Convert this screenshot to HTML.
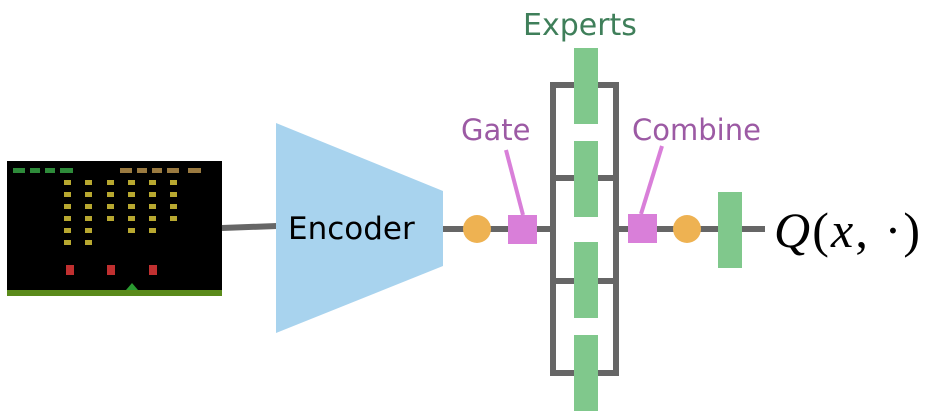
<!DOCTYPE html>
<html><head><meta charset="utf-8"><style>
html,body{margin:0;padding:0;background:#fff;width:925px;height:418px;overflow:hidden}
</style></head><body>
<svg width="925" height="418" viewBox="0 0 925 418" xmlns="http://www.w3.org/2000/svg">
<rect x="7" y="161" width="215" height="135" fill="#000"/>
<rect x="7" y="290" width="215" height="6" fill="#5a8a1a"/>
<polygon points="126,290 132,283 138,290" fill="#2a9a30"/>
<g fill="#2e8b3a"><rect x="13" y="168" width="12" height="5"/><rect x="30" y="168" width="10" height="5"/><rect x="45" y="168" width="10" height="5"/><rect x="60" y="168" width="13" height="5"/></g>
<g fill="#9a7a40"><rect x="120" y="168" width="12" height="5"/><rect x="137" y="168" width="10" height="5"/><rect x="152" y="168" width="10" height="5"/><rect x="167" y="168" width="12" height="5"/><rect x="188" y="168" width="13" height="5"/></g>
<g fill="#b8a830">
<rect x="64" y="180" width="7" height="5"/><rect x="85" y="180" width="7" height="5"/><rect x="107" y="180" width="7" height="5"/><rect x="128" y="180" width="7" height="5"/><rect x="149" y="180" width="7" height="5"/><rect x="170" y="180" width="7" height="5"/>
<rect x="64" y="192" width="7" height="5"/><rect x="85" y="192" width="7" height="5"/><rect x="107" y="192" width="7" height="5"/><rect x="128" y="192" width="7" height="5"/><rect x="149" y="192" width="7" height="5"/><rect x="170" y="192" width="7" height="5"/>
<rect x="64" y="204" width="7" height="5"/><rect x="85" y="204" width="7" height="5"/><rect x="107" y="204" width="7" height="5"/><rect x="128" y="204" width="7" height="5"/><rect x="149" y="204" width="7" height="5"/><rect x="170" y="204" width="7" height="5"/>
<rect x="64" y="216" width="7" height="5"/><rect x="85" y="216" width="7" height="5"/><rect x="107" y="216" width="7" height="5"/><rect x="128" y="216" width="7" height="5"/><rect x="149" y="216" width="7" height="5"/><rect x="170" y="216" width="7" height="5"/>
<rect x="64" y="228" width="7" height="5"/><rect x="85" y="228" width="7" height="5"/><rect x="128" y="228" width="7" height="5"/><rect x="149" y="228" width="7" height="5"/>
<rect x="64" y="240" width="7" height="5"/><rect x="85" y="240" width="7" height="5"/>
</g>
<g fill="#c03030"><rect x="66" y="265" width="8" height="10"/><rect x="107" y="265" width="8" height="10"/><rect x="149" y="265" width="8" height="10"/></g>
<line x1="222" y1="228" x2="277" y2="226" stroke="#666" stroke-width="6"/>
<polygon points="276,123 443,191 443,266 276,333" fill="#a8d3ee"/>
<text x="288" y="239" font-family="'DejaVu Sans','Liberation Sans',sans-serif" font-size="31" fill="#000">Encoder</text>
<line x1="443" y1="229" x2="556" y2="229" stroke="#666" stroke-width="6"/>
<line x1="613" y1="229" x2="765" y2="229" stroke="#666" stroke-width="6"/>
<rect x="553" y="85" width="63" height="288" fill="none" stroke="#666" stroke-width="6"/>
<line x1="553" y1="178" x2="616" y2="178" stroke="#666" stroke-width="6"/>
<line x1="553" y1="281" x2="616" y2="281" stroke="#666" stroke-width="6"/>
<g fill="#80c88c">
<rect x="574" y="48" width="24" height="76"/>
<rect x="574" y="141" width="24" height="76"/>
<rect x="574" y="242" width="24" height="76"/>
<rect x="574" y="335" width="24" height="76"/>
<rect x="718" y="192" width="24" height="76"/>
</g>
<circle cx="477" cy="229" r="14" fill="#eeb252"/>
<circle cx="687" cy="229" r="14" fill="#eeb252"/>
<line x1="506" y1="150" x2="523" y2="215" stroke="#d97fd9" stroke-width="4"/>
<line x1="662" y1="146" x2="641" y2="214" stroke="#d97fd9" stroke-width="4"/>
<rect x="508" y="215" width="29" height="29" fill="#d97fd9"/>
<rect x="628" y="214" width="29" height="29" fill="#d97fd9"/>
<text x="461" y="140" font-family="'DejaVu Sans','Liberation Sans',sans-serif" font-size="29" fill="#9c5aa4">Gate</text>
<text x="632" y="140" font-family="'DejaVu Sans','Liberation Sans',sans-serif" font-size="29" fill="#9c5aa4">Combine</text>
<text x="523" y="35" font-family="'DejaVu Sans','Liberation Sans',sans-serif" font-size="30" fill="#3f7f5a">Experts</text>
<text x="774" y="247" font-family="'Liberation Serif',serif" font-size="50" font-style="italic" fill="#000" textLength="146" lengthAdjust="spacing">Q<tspan font-style="normal">(</tspan>x<tspan font-style="normal">, ·)</tspan></text>
</svg>
</body></html>
